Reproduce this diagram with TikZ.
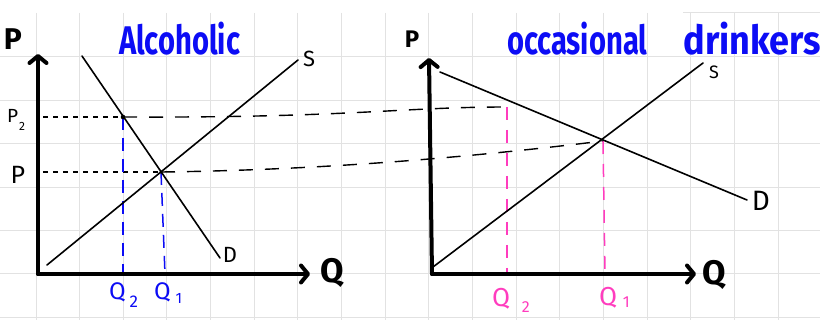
\documentclass[tikz,border=0pt]{standalone}
\usepackage{fontspec}
\setmainfont{Fira Sans}
\usetikzlibrary{arrows.meta}
\definecolor{gridc}{RGB}{226,226,226}
\definecolor{hblue}{RGB}{12,12,245}
\definecolor{hpink}{RGB}{255,60,190}
\newcommand{\fsz}[1]{\fontsize{#1}{#1}\selectfont}
\tikzset{
  gridline/.style={gridc, line width=1pt},
  axisline/.style={line width=4pt, line cap=round, line join=round,
    -{Straight Barb[length=7pt,width=17pt,line cap=round,line join=round]}},
  curveline/.style={line width=1.6pt, line cap=round},
  shortdash/.style={line width=1.4pt, dash pattern=on 5pt off 5pt},
  longdash/.style={line width=1.4pt, dash pattern=on 14pt off 12pt},
  bluedash/.style={hblue, line width=1.5pt, dash pattern=on 13pt off 8pt},
  pinkdash/.style={hpink, line width=1.5pt, dash pattern=on 13pt off 10pt},
  lbl/.style={inner sep=0pt, outer sep=0pt},
  title/.style={lbl, hblue, anchor=base west, font=\bfseries\fsz{40}},
}
\begin{document}
\begin{tikzpicture}[x=1pt,y=-1pt]
\useasboundingbox (0,0) rectangle (820,320);
\clip (0,0) rectangle (820,320);
\fill[white] (0,0) rectangle (820,320);
% grid
\foreach \i in {0,...,18} \draw[gridline] ({36+43.65*\i},13) -- ({36+43.65*\i},320);
\foreach \j in {0,...,6} \draw[gridline] (0,{57+43.4*\j}) -- (820,{57+43.4*\j});
\draw[gridline] (683,13) -- (820,13);

% ---------- left chart ----------
\coordinate (O1) at (38,274);
\coordinate (Y1) at (38,54);
\coordinate (X1) at (310,274);
\coordinate (D1a) at (82,56);
\coordinate (D1b) at (220,258);
\coordinate (S1a) at (47,265);
\coordinate (S1b) at (298,60);
\coordinate (E1) at (161,172);
\coordinate (A1) at (123,117);
\coordinate (P2s) at (43,117);
\coordinate (Ps) at (43,172);
\coordinate (F1) at (123,274);
\coordinate (G1) at (165,274);

% ---------- right chart ----------
\coordinate (O2) at (432,274);
\coordinate (Y2) at (429,58);
\coordinate (X2) at (696,274);
\coordinate (D2a) at (440,72);
\coordinate (D2b) at (747,200);
\coordinate (S2a) at (433,267);
\coordinate (S2b) at (703,63);
\coordinate (E2) at (603,141);
\coordinate (B2) at (507,107);
\coordinate (F2) at (507,274);
\coordinate (G2) at (605,274);

% guide lines (black dashed)
\draw[shortdash] (P2s) -- (A1);
\draw[longdash] (A1) .. controls (350,118) and (400,107) .. (B2);
\draw[shortdash] (Ps) -- (E1);
\draw[longdash] (E1) .. controls (330,170) and (480,156) .. (E2);

% coloured verticals
\draw[bluedash] (A1) -- (F1);
\draw[bluedash] (E1) -- (G1);
\draw[pinkdash] (B2) -- (F2);
\draw[pinkdash] (E2) -- (G2);

% curves
\draw[curveline] (D1a) -- (D1b);
\draw[curveline] (S1a) -- (S1b);
\draw[curveline] (D2a) -- (D2b);
\draw[curveline] (S2a) -- (S2b);
\fill (A1) circle (2.3pt);
\fill (E1) circle (1.6pt);

% axes
\draw[axisline] (O1) -- (Y1);
\draw[axisline] (O1) -- (X1);
\draw[axisline] (O2) -- (Y2);
\draw[axisline] (O2) -- (X2);

% labels left
\node[lbl, font=\bfseries\fsz{30}] (Plab1) at (13,39) {P};
\node[lbl, anchor=base west, font=\fsz{19}] (P2lab) at (7,123) {P\kern1pt\raisebox{-8pt}{\fsz{12}2}};
\node[lbl, font=\fsz{25}] (Plab) at (18,175) {P};
\node[lbl, font=\bfseries\fsz{34}] (Qax1) at (332,273) {Q};
\node[lbl, font=\fsz{22}] (Slab1) at (309,59) {S};
\node[lbl, font=\fsz{22}] (Dlab1) at (230,255) {D};
\node[lbl, anchor=base west, hblue, font=\fsz{24}] (Q2lab1) at (109,300) {Q\kern4pt\raisebox{-8pt}{\fsz{17}2}};
\node[lbl, anchor=base west, hblue, font=\fsz{24}] (Q1lab1) at (154,300) {Q\kern5pt\raisebox{-4pt}{\fsz{15}1}};
\node[title] (T1) at (119,55) {\raisebox{0pt}[\height][0pt]{\scalebox{0.73}[1]{Alcoholic}}};

% labels right
\node[lbl, font=\bfseries\fsz{24}] (Plab2) at (412,39) {P};
\node[lbl, font=\bfseries\fsz{34}] (Qax2) at (714,275) {Q};
\node[lbl, font=\fsz{18}] (Slab2) at (714,72) {S};
\node[lbl, font=\fsz{28}] (Dlab2) at (761,201) {D};
\node[lbl, anchor=base west, hpink, font=\fsz{26}] (Q2lab2) at (492,307) {Q\kern12pt\raisebox{-6pt}{\fsz{16}2}};
\node[lbl, anchor=base west, hpink, font=\fsz{26}] (Q1lab2) at (599,306) {Q\kern6pt\raisebox{-2pt}{\fsz{16}1}};
\node[title] (T2) at (507,55) {\raisebox{0pt}[\height][0pt]{\scalebox{0.73}[1]{occasional}\hspace{36pt}\scalebox{0.9}[1]{drinkers}}};
\end{tikzpicture}
\end{document}
